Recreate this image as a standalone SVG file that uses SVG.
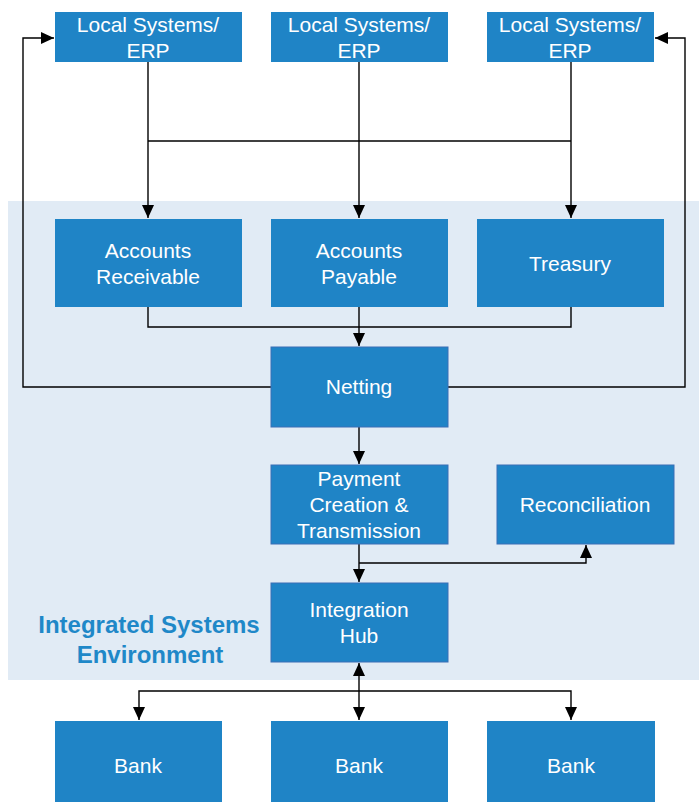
<svg xmlns="http://www.w3.org/2000/svg" width="699" height="803" viewBox="0 0 699 803">
<style>
.box{fill:#1f84c6}
.bx2{fill:#1f84c6;stroke:#3b6fb6;stroke-width:1}
.t{font-family:"Liberation Sans",Arial,sans-serif;font-size:21px;fill:#ffffff;text-anchor:middle}
.lbl{font-family:"Liberation Sans",Arial,sans-serif;font-size:24px;font-weight:bold;fill:#1f88c8;text-anchor:middle}
.c{fill:none;stroke:#000;stroke-width:1.4}
</style>
<defs>
<marker id="ah" markerUnits="userSpaceOnUse" markerWidth="13" markerHeight="13" refX="13" refY="6.5" orient="auto-start-reverse" viewBox="0 0 13 13">
<path d="M0,0.5 L13,6.5 L0,12.5 z" fill="#000"/>
</marker>
</defs>
<rect id="env-bg" x="8" y="201" width="691" height="479" fill="#e1ebf5"/>
<g id="connectors">
<path class="c" d="M148,62 V218" marker-end="url(#ah)"/>
<path class="c" d="M359,62 V218" marker-end="url(#ah)"/>
<path class="c" d="M571,62 V218" marker-end="url(#ah)"/>
<path class="c" d="M148,141 H571"/>
<path class="c" d="M148,307 V327 H571 V307"/>
<path class="c" d="M359,307 V346" marker-end="url(#ah)"/>
<path class="c" d="M271,387 H23 V38 H54" marker-end="url(#ah)"/>
<path class="c" d="M448,387 H685 V38 H655" marker-end="url(#ah)"/>
<path class="c" d="M359,427 V464" marker-end="url(#ah)"/>
<path class="c" d="M359,544 V582" marker-end="url(#ah)"/>
<path class="c" d="M359,563 H586 V545" marker-end="url(#ah)"/>
<path class="c" d="M359,663 V720" marker-start="url(#ah)" marker-end="url(#ah)"/>
<path class="c" d="M139,720 V691 H571 V720" marker-start="url(#ah)" marker-end="url(#ah)"/>
</g>
<g id="erp1"><rect class="box" x="55" y="12" width="187" height="50"/><text class="t" x="148" y="32">Local Systems/</text><text class="t" x="148" y="58">ERP</text></g>
<g id="erp2"><rect class="box" x="271" y="12" width="177" height="50"/><text class="t" x="359" y="32">Local Systems/</text><text class="t" x="359" y="58">ERP</text></g>
<g id="erp3"><rect class="box" x="487" y="12" width="167" height="50"/><text class="t" x="570" y="32">Local Systems/</text><text class="t" x="570" y="58">ERP</text></g>
<g id="ar"><rect class="box" x="55" y="219" width="187" height="88"/><text class="t" x="148" y="258">Accounts</text><text class="t" x="148" y="284">Receivable</text></g>
<g id="ap"><rect class="box" x="271" y="219" width="177" height="88"/><text class="t" x="359" y="258">Accounts</text><text class="t" x="359" y="284">Payable</text></g>
<g id="treasury"><rect class="box" x="477" y="219" width="187" height="88"/><text class="t" x="570" y="271">Treasury</text></g>
<g id="netting"><rect class="bx2" x="271" y="347" width="177" height="80"/><text class="t" x="359" y="394">Netting</text></g>
<g id="payment"><rect class="bx2" x="271" y="465" width="177" height="79"/><text class="t" x="359" y="486">Payment</text><text class="t" x="359" y="512">Creation &amp;</text><text class="t" x="359" y="538">Transmission</text></g>
<g id="recon"><rect class="bx2" x="497" y="465" width="177" height="79"/><text class="t" x="585" y="512">Reconciliation</text></g>
<g id="hub"><rect class="bx2" x="271" y="583" width="177" height="79"/><text class="t" x="359" y="617">Integration</text><text class="t" x="359" y="643">Hub</text></g>
<g id="env-label"><text class="lbl" x="149" y="633">Integrated Systems</text><text class="lbl" x="150" y="663">Environment</text></g>
<g id="bank1"><rect class="box" x="55" y="721" width="167" height="81"/><text class="t" x="138" y="773">Bank</text></g>
<g id="bank2"><rect class="box" x="271" y="721" width="177" height="81"/><text class="t" x="359" y="773">Bank</text></g>
<g id="bank3"><rect class="box" x="487" y="721" width="168" height="81"/><text class="t" x="571" y="773">Bank</text></g>
</svg>
